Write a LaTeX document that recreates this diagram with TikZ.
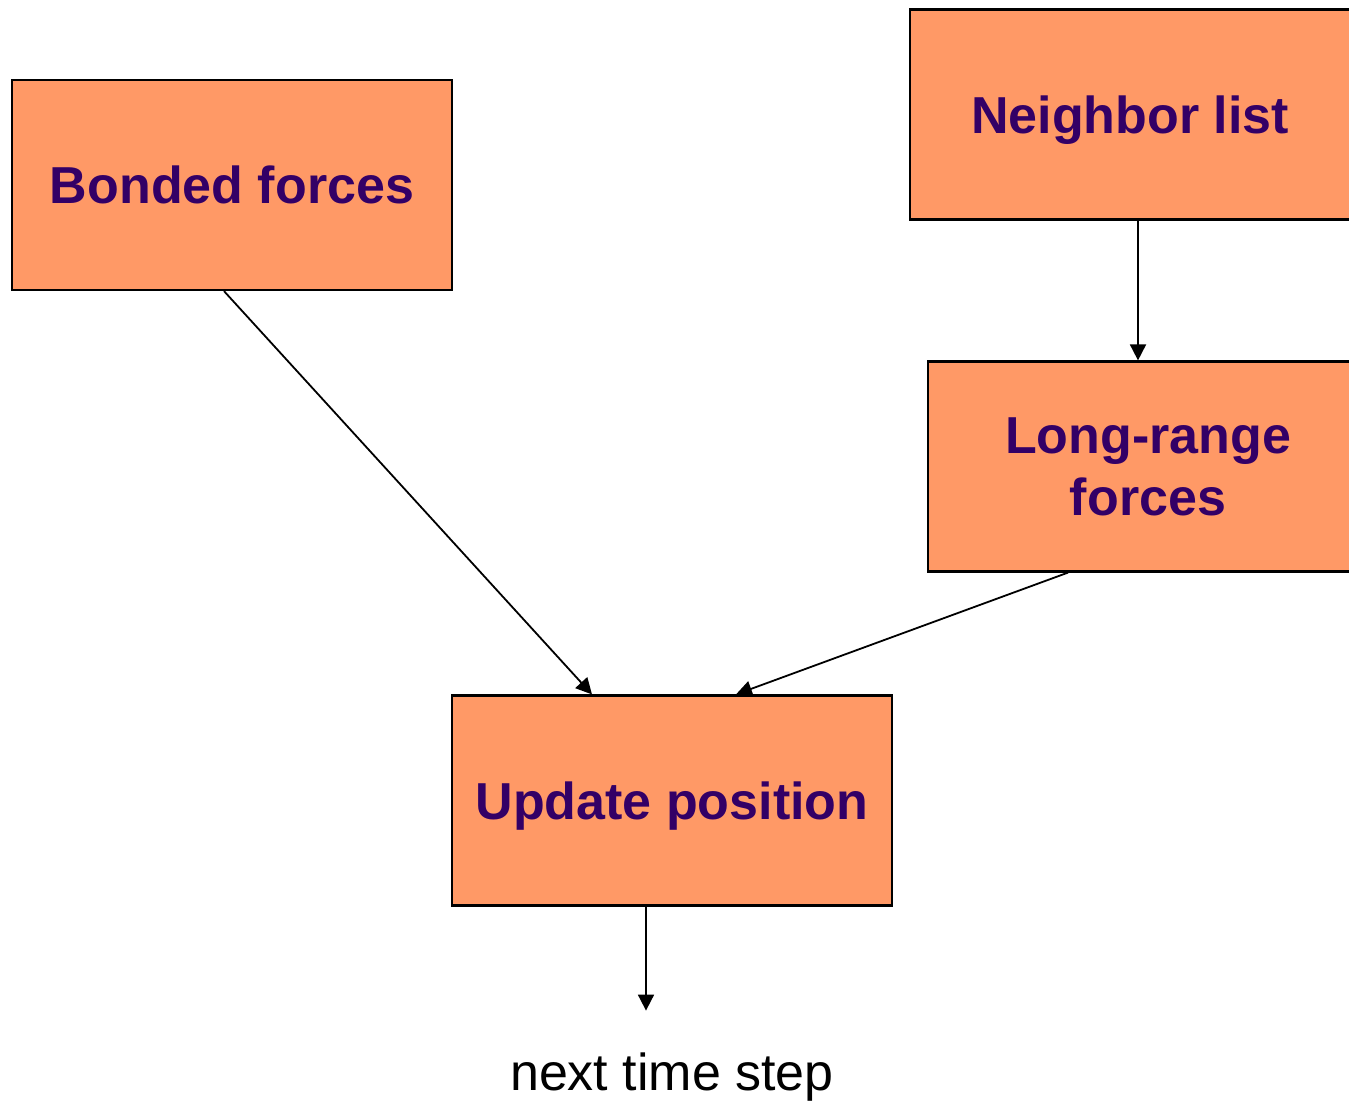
\documentclass[tikz,border=0pt]{standalone}
\usepackage{fontspec}
\setmainfont{Liberation Sans}
\usetikzlibrary{arrows.meta,positioning,calc}
\definecolor{boxfill}{HTML}{FF9966}
\definecolor{boxtext}{HTML}{330066}

\begin{document}
\begin{tikzpicture}[x=0.5pt,y=-0.5pt,
    stage/.style={draw,line width=1.1pt,fill=boxfill,minimum width=220pt,minimum height=105pt,
      inner sep=0pt,align=center,text=boxtext,text depth=0pt,font=\fontsize{26}{31}\selectfont\bfseries},
    flow/.style={-{Triangle[width=8pt,length=8pt]},line width=0.9pt}]
    \clip (0,0) rectangle (1349,1102);
    \fill[white] (0,0) rectangle (1349,1102);
    \node[stage] (bonded) at (232,185) {Bonded forces};
    \node[stage] (neighbor) at (1130,114.5) {Neighbor list};
    \node[stage] (longrange) at (1148,466.5) {Long-range\\forces};
    \node[stage] (update) at (672,800.5) {Update position};
    \node[font=\fontsize{26}{31}\selectfont] (next) at (672,1077) {next time step};
    \coordinate (nextin) at ($(update.south)+(-26,104)$);
    \draw[flow] ($(bonded.south)+(-8,0)$) -- ($(update.north)+(-80,0)$);
    \draw[flow] ($(neighbor.south)+(8,0)$) -- ($(longrange.north)+(-10,0)$);
    \draw[flow] ($(longrange.south)+(-80,0)$) -- ($(update.north)+(64,0)$);
    \draw[flow] ($(update.south)+(-26,0)$) -- (nextin);
  \end{tikzpicture}
\end{document}
